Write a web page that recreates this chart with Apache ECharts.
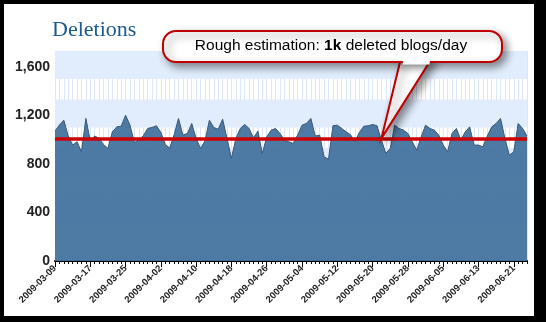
<!DOCTYPE html>
<html>
<head>
<meta charset="utf-8">
<script src="https://cdn.jsdelivr.net/npm/echarts@6/dist/echarts.min.js"></script>
<style>
  html, body { margin: 0; padding: 0; background: #000; }
  #panel { position: absolute; left: 4px; top: 4px; width: 530px; height: 312px; background: #fff; }
  #chart { position: absolute; left: 0; top: 0; width: 546px; height: 322px; }
</style>
</head>
<body>
<div id="panel"></div>
<div id="chart"></div>
<script>
// ---- data ----
const titleText = 'Deletions';
const startDate = '2009-03-09';
const dayCount = 108;
const deletions = [
  1070, 1120, 1160, 1030, 955, 982, 900, 1174, 990, 1030,
  1010, 960, 927, 1064, 1105, 1110, 1201, 1119, 975, 1000,
  1030, 1092, 1100, 1114, 1060, 960, 930, 1040, 1174, 1037,
  1051, 1133, 1010, 927, 990, 1160, 1100, 1085, 1168, 1010,
  845, 1010, 1092, 1125, 1092, 1015, 1070, 886, 1023, 1078,
  1092, 1051, 996, 982, 968, 1037, 1119, 1133, 1174, 1030,
  1037, 858, 839, 1114, 1119, 1092, 1065, 1040, 982, 1060,
  1110, 1114, 1125, 1114, 996, 886, 927, 1119, 1092, 1078,
  1051, 982, 913, 1023, 1119, 1092, 1078, 1037, 955, 900,
  1050, 1092, 996, 1064, 1105, 955, 955, 941, 1030, 1105,
  1133, 1174, 1010, 872, 900, 1133, 1092, 1030
];
const estimate = 1010;
const estimateIndex = 74;
const yMin = 0, yMax = 1730, yInterval = 400;
const bandRanges = [[1500, 1730], [1100, 1330], [700, 930], [300, 530]];
const calloutParts = ['Rough estimation: ', '1k', ' deleted blogs/day'];

// categories (calendar days)
const dates = [];
(function () {
  const d0 = new Date(startDate + 'T00:00:00Z');
  for (let i = 0; i < dayCount; i++) {
    const d = new Date(d0.getTime() + i * 86400000);
    const mm = String(d.getUTCMonth() + 1).padStart(2, '0');
    const dd = String(d.getUTCDate()).padStart(2, '0');
    dates.push(d.getUTCFullYear() + '-' + mm + '-' + dd);
  }
})();

const fmt = v => String(v).replace(/\B(?=(\d{3})+(?!\d))/g, ',');

const chart = echarts.init(document.getElementById('chart'), null, { renderer: 'canvas' });
chart.setOption({
  animation: false,
  backgroundColor: 'transparent',
  title: {
    text: titleText,
    left: 52, top: 19, padding: 0,
    textStyle: { fontFamily: 'Liberation Serif', fontSize: 22, fontWeight: 'normal', color: '#1b5a8c' }
  },
  grid: { left: 55, right: 19, top: 51, bottom: 61 },
  xAxis: [{
    type: 'category', data: dates, boundaryGap: false,
    axisLine: { lineStyle: { color: '#000', width: 2 } },
    axisTick: { interval: 0, length: 3, lineStyle: { color: '#000' } },
    axisLabel: { interval: 7, rotate: 45, fontSize: 9.5, fontWeight: 'bold', color: '#222', margin: 6, fontFamily: 'Liberation Sans' },
    splitLine: { show: true, interval: 0, lineStyle: { color: 'rgba(165,195,240,0.4)', width: 1 } }
  }, {
    type: 'category', data: dates, boundaryGap: false, position: 'bottom',
    axisLine: { show: false },
    axisTick: { interval: 7, length: 6, lineStyle: { color: '#000' } },
    axisLabel: { show: false },
    splitLine: { show: false }
  }],
  yAxis: {
    type: 'value', min: yMin, max: yMax, interval: yInterval,
    axisLine: { show: false }, axisTick: { show: false }, splitLine: { show: false },
    axisLabel: { showMaxLabel: false, formatter: fmt, fontSize: 14, fontWeight: 'bold', color: '#222', margin: 5, fontFamily: 'Liberation Sans' }
  },
  series: [{
    type: 'line', data: deletions, symbol: 'none', silent: true, z: 1,
    lineStyle: { opacity: 0 },
    markArea: {
      silent: true,
      itemStyle: { color: '#e1ecfc' },
      data: bandRanges.map(r => [{ yAxis: r[0] }, { yAxis: r[1] }])
    }
  }, {
    type: 'line', data: deletions, symbol: 'none', z: 3,
    lineStyle: { color: '#3a5775', width: 1 },
    areaStyle: { color: '#45749f', opacity: 0.95 },
    markLine: {
      silent: true, symbol: 'none', label: { show: false },
      lineStyle: { color: '#cc0000', width: 3.5, type: 'solid' },
      data: [{ yAxis: estimate }]
    }
  }]
});

// callout pointing at the estimate line
const tip = chart.convertToPixel({ xAxisIndex: 0, yAxisIndex: 0 }, [dates[estimateIndex], estimate]);
const bx0 = 163, bx1 = 502, by0 = 31, by1 = 62;
const baseL = 401, baseR = 432;
const shadow = { shadowBlur: 8, shadowOffsetX: 4, shadowOffsetY: 4, shadowColor: 'rgba(0,0,0,0.45)' };
chart.setOption({
  graphic: [{
    type: 'polygon', z: 100,
    shape: { points: [[baseL, by1 - 4], [baseR, by1 - 4], [tip[0], tip[1]]] },
    style: Object.assign({ fill: '#fff', stroke: '#c00000', lineWidth: 2, lineJoin: 'miter' }, shadow)
  }, {
    type: 'rect', z: 101,
    shape: { x: bx0, y: by0, width: bx1 - bx0, height: by1 - by0, r: 13 },
    style: Object.assign({ fill: '#fff', stroke: '#c00000', lineWidth: 2 }, shadow)
  }, {
    type: 'polygon', z: 102,
    shape: { points: [[baseL + 1.6, by1 - 3], [baseR - 1.6, by1 - 3], [baseR - 2.6, by1 + 2.5], [baseL + 2.2, by1 + 2.5]] },
    style: { fill: '#fff', stroke: null }
  }, {
    type: 'text', z: 103,
    style: {
      x: 331, y: 46, align: 'center', verticalAlign: 'middle',
      text: '{n|' + calloutParts[0] + '}{b|' + calloutParts[1] + '}{n|' + calloutParts[2] + '}',
      rich: {
        n: { fontSize: 15.5, color: '#cc0000', fontFamily: 'Liberation Sans' },
        b: { fontSize: 15.5, color: '#cc0000', fontWeight: 'bold', fontFamily: 'Liberation Sans' }
      }
    }
  }]
});
</script>
</body>
</html>
